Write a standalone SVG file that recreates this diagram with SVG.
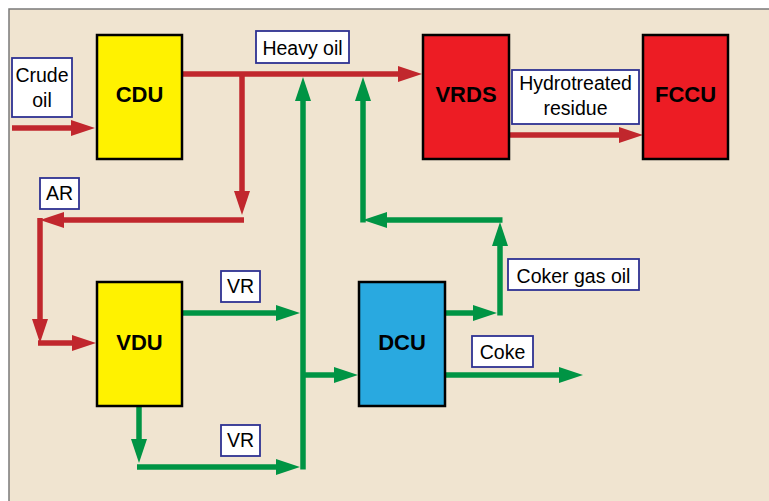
<svg xmlns="http://www.w3.org/2000/svg" width="769" height="501" viewBox="0 0 769 501">
<defs>
<style>
.node{stroke:#000;stroke-width:2.5}
.nt{font-family:"Liberation Sans",Arial,sans-serif;font-weight:bold;font-size:22px;text-anchor:middle;fill:#000}
.lb{fill:#fff;stroke:#2E3192;stroke-width:1.8}
.lt{font-family:"Liberation Sans",Arial,sans-serif;font-size:19.5px;text-anchor:middle;fill:#000}
.red{fill:none;stroke:#C1272D;stroke-width:5.5;marker-end:url(#ar)}
.grn{fill:none;stroke:#009444;stroke-width:5.5;marker-end:url(#ag)}
</style>
<marker id="ar" markerUnits="userSpaceOnUse" markerWidth="26" markerHeight="18" refX="12" refY="8" orient="auto" overflow="visible"><path d="M0,0 L24,8 L0,16 z" fill="#C1272D"/></marker>
<marker id="ag" markerUnits="userSpaceOnUse" markerWidth="26" markerHeight="18" refX="12" refY="8" orient="auto" overflow="visible"><path d="M0,0 L24,8 L0,16 z" fill="#009444"/></marker>
</defs>
<rect x="0" y="0" width="769" height="501" fill="#fff"/>
<rect x="9" y="9" width="770" height="500" fill="#F0E4D0" stroke="#7a7a7a" stroke-width="1.5"/>

<g id="connectors">
<path class="red" d="M12,128 H83"/>
<path class="red" d="M182,74 H410"/>
<path class="red" d="M242,74 V203"/>
<path class="red" d="M244,220 H52"/>
<path class="red" d="M40,218 V331"/>
<path class="red" d="M38,343 H84"/>
<path class="red" d="M509,135 H631"/>
<path class="grn" d="M182,313 H288"/>
<path class="grn" d="M139,406 V451"/>
<path class="grn" d="M137,467 H288"/>
<path class="grn" d="M303,469.5 V89"/>
<path class="grn" d="M303,375 H346"/>
<path class="grn" d="M445,313 H485"/>
<path class="grn" d="M500,315.5 V234"/>
<path class="grn" d="M502.5,220 H375"/>
<path class="grn" d="M363,222.5 V89"/>
<path class="grn" d="M445,375 H571"/>
</g>

<g id="CDU"><rect class="node" x="97" y="35" width="85" height="124" fill="#FFF200"/><text class="nt" x="139.5" y="102">CDU</text></g>
<g id="VRDS"><rect class="node" x="423" y="35" width="86" height="124" fill="#ED1C24"/><text class="nt" x="466" y="102">VRDS</text></g>
<g id="FCCU"><rect class="node" x="643" y="35" width="85" height="124" fill="#ED1C24"/><text class="nt" x="685.5" y="102">FCCU</text></g>
<g id="VDU"><rect class="node" x="97" y="282" width="85" height="124" fill="#FFF200"/><text class="nt" x="139.5" y="350">VDU</text></g>
<g id="DCU"><rect class="node" x="359" y="282" width="86" height="124" fill="#29A9E0"/><text class="nt" x="402" y="350">DCU</text></g>

<g id="label-crude"><rect class="lb" x="12" y="58" width="60" height="59"/><text class="lt" x="42" y="82">Crude</text><text class="lt" x="42" y="107">oil</text></g>
<g id="label-heavy"><rect class="lb" x="256" y="31" width="93" height="32"/><text class="lt" x="302.5" y="55">Heavy oil</text></g>
<g id="label-ar"><rect class="lb" x="40" y="178" width="39" height="31"/><text class="lt" x="59.5" y="200">AR</text></g>
<g id="label-hydro"><rect class="lb" x="512" y="70" width="127" height="54"/><text class="lt" x="575.5" y="90">Hydrotreated</text><text class="lt" x="575.5" y="115">residue</text></g>
<g id="label-vr1"><rect class="lb" x="221" y="271" width="39" height="31"/><text class="lt" x="240.5" y="293">VR</text></g>
<g id="label-vr2"><rect class="lb" x="221" y="425" width="39" height="31"/><text class="lt" x="240.5" y="447">VR</text></g>
<g id="label-cgo"><rect class="lb" x="508" y="259" width="131" height="31"/><text class="lt" x="573.5" y="283">Coker gas oil</text></g>
<g id="label-coke"><rect class="lb" x="472" y="336" width="61" height="31"/><text class="lt" x="502.5" y="359">Coke</text></g>
</svg>
